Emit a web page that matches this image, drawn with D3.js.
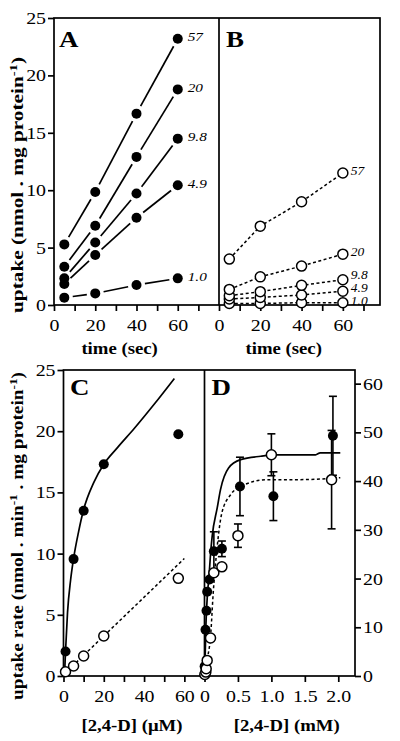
<!DOCTYPE html>
<html><head><meta charset="utf-8">
<script src="https://cdn.jsdelivr.net/npm/d3@7"></script>
<style>
html,body{margin:0;padding:0;background:#fff;}
svg{display:block;}
text{font-family:"Liberation Serif","Times New Roman",serif;fill:#000;}
</style></head>
<body>
<svg id="chart" width="400" height="741"></svg>
<script>
// ---------- DATA ----------
const timeSec = [5, 20, 40, 60];
const concLabels = ["57", "20", "9.8", "4.9", "1.0"];
// Panel A (filled)
const uptakeA57 = [5.28, 9.85, 16.67, 23.19];
const uptakeA20 = [3.33, 6.9, 12.9, 18.78];
const uptakeA98 = [2.32, 5.45, 9.71, 14.49];
const uptakeA49 = [1.83, 4.35, 7.6, 10.43];
const uptakeA10 = [0.64, 1.01, 1.74, 2.32];
// Panel B (open)
const uptakeB57 = [4.0, 6.87, 8.99, 11.5];
const uptakeB20 = [1.36, 2.45, 3.39, 4.43];
const uptakeB98 = [0.81, 1.16, 1.71, 2.2];
const uptakeB49 = [0.52, 0.66, 0.87, 1.2];
const uptakeB10 = [0.14, 0.14, 0.2, 0.2];
// Panel C (uM)
const concC = [1, 5, 10, 20, 57];
const rateCFilled = [2.0, 9.55, 13.5, 17.3, 19.75];
const rateCOpen = [0.35, 0.82, 1.63, 3.27, 7.98];
const fitCSolidX = [0.5, 1.0, 2.0, 3.5, 5, 7.5, 10, 15, 20, 27, 35, 45, 55];
const fitCSolidY = [0, 2.0, 5.2, 7.8, 9.6, 11.8, 13.6, 15.8, 17.3, 18.7, 20.2, 22.2, 24.3];
const fitCDotX = [0.3, 60];
const fitCDotY = [0.15, 9.6];
// Panel D (mM), right axis
const concDFilled = [0.002, 0.015, 0.03, 0.04, 0.075, 0.14, 0.26, 0.53, 1.03, 1.92];
const rateDFilled = [2.0, 9.5, 13.4, 17.3, 19.8, 25.6, 26.1, 38.9, 36.9, 49.3];
const errDFilled = [0, 0, 0, 0, 0, 4.0, 1.6, 6.0, 5.0, 8.1];
const concDOpen = [0.005, 0.02, 0.025, 0.04, 0.09, 0.14, 0.26, 0.5, 1.0, 1.9];
const rateDOpen = [0.3, 0.8, 1.5, 3.2, 7.8, 21.2, 22.4, 28.8, 45.4, 40.3];
const errDOpen = [0, 0, 0, 0, 0, 0, 0, 2.4, 4.3, 10.1];
const fitDSolidX = [0.003, 0.02, 0.045, 0.065, 0.09, 0.115, 0.19, 0.24, 0.36, 0.54, 0.84, 1.06, 1.66, 1.73, 2.03];
const fitDSolidY = [0, 10, 17, 20, 25, 28.7, 34.5, 38.3, 42.7, 44.4, 45.1, 45.4, 45.4, 45.8, 45.8];
const fitDDotX = [0.01, 0.05, 0.09, 0.13, 0.19, 0.26, 0.39, 0.54, 0.94, 1.43, 2.03];
const fitDDotY = [0, 4, 8, 17, 26.6, 33.5, 37.2, 38.9, 40.3, 40.3, 40.7];
// Ticks
const topYTicks = [0, 5, 10, 15, 20, 25];
const timeTicks = [0, 10, 20, 30, 40, 50, 60, 70];
const timeTickLabels = [0, 20, 40, 60];
const cXTicks = [0, 10, 20, 30, 40, 50, 60];
const cXTickLabels = [0, 20, 40, 60];
const dXTicks = [0, 0.5, 1.0, 1.5, 2.0];
const dYTicks = [0, 10, 20, 30, 40, 50, 60];

// ---------- LAYOUT ----------
const svg = d3.select("#chart");
const STRETCH = 1.17;
const xA = d3.scaleLinear().domain([0, 80]).range([54, 219]);
const xB = d3.scaleLinear().domain([0, 78]).range([219, 380]);
const yTop = d3.scaleLinear().domain([0, 25]).range([305, 18]);
const xC = d3.scaleLinear().domain([0, 70]).range([63.5, 204.5]);
const yC = d3.scaleLinear().domain([0, 25]).range([676, 370]);
const xD = d3.scaleLinear().domain([0, 2.25]).range([204.5, 355]);
const yD = d3.scaleLinear().domain([0, 62.8]).range([676, 370]);

const SW = 1.7;
function styleAxis(g) {
  g.attr("font-family", null).attr("font-size", null);
  g.select(".domain").remove();
  g.selectAll(".tick line").attr("stroke", "#000").attr("stroke-width", SW);
  g.selectAll(".tick text").attr("font-size", 17).attr("class", "sx");
}
function fmtOnly(list, f) { return d => list.includes(d) ? (f ? f(d) : String(d)) : ""; }

// Axes top
svg.append("g").attr("transform", "translate(54,0)")
  .call(d3.axisLeft(yTop).tickValues(topYTicks).tickSize(6).tickPadding(2)).call(styleAxis);
svg.append("g").attr("transform", "translate(0,305)")
  .call(d3.axisBottom(xA).tickValues(timeTicks).tickSize(6).tickPadding(8).tickFormat(fmtOnly(timeTickLabels))).call(styleAxis);
svg.append("g").attr("transform", "translate(0,305)")
  .call(d3.axisBottom(xB).tickValues(timeTicks).tickSize(6).tickPadding(8).tickFormat(fmtOnly(timeTickLabels))).call(styleAxis);
// Axes bottom
svg.append("g").attr("transform", "translate(63.5,0)")
  .call(d3.axisLeft(yC).tickValues(topYTicks).tickSize(6).tickPadding(2)).call(styleAxis);
svg.append("g").attr("transform", "translate(0,676)")
  .call(d3.axisBottom(xC).tickValues(cXTicks).tickSize(6).tickPadding(8).tickFormat(fmtOnly(cXTickLabels))).call(styleAxis);
svg.append("g").attr("transform", "translate(0,676)")
  .call(d3.axisBottom(xD).tickValues(dXTicks).tickSize(6).tickPadding(8).tickFormat(d => d === 0 ? "0" : d3.format(".1f")(d))).call(styleAxis);
svg.append("g").attr("transform", "translate(355,0)")
  .call(d3.axisRight(yD).tickValues(dYTicks).tickSize(6).tickPadding(2)).call(styleAxis);

// Frames
function frame(x0, x1, xm, y0, y1) {
  const g = svg.append("g").attr("stroke", "#000").attr("stroke-width", SW).attr("fill", "none");
  g.append("rect").attr("x", x0).attr("y", y0).attr("width", x1 - x0).attr("height", y1 - y0);
  g.append("line").attr("x1", xm).attr("x2", xm).attr("y1", y0).attr("y2", y1);
}
frame(xA(0), xB.range()[1], xB(0), yTop(25), yTop(0));
frame(xC(0), xD.range()[1], xD(0), yC(25), yC(0));

// ---------- Panel A ----------
const R = 5;
const seriesA = [uptakeA57, uptakeA20, uptakeA98, uptakeA49, uptakeA10];
const gA = svg.append("g");
seriesA.forEach(vals => {
  for (let i = 0; i < vals.length - 1; i++) {
    const x1 = xA(timeSec[i]), y1 = yTop(vals[i]), x2 = xA(timeSec[i + 1]), y2 = yTop(vals[i + 1]);
    const dx = x2 - x1, dy = y2 - y1, L = Math.hypot(dx, dy), gap = 8.5;
    if (L > 2 * gap) {
      gA.append("line").attr("x1", x1 + dx / L * gap).attr("y1", y1 + dy / L * gap)
        .attr("x2", x2 - dx / L * gap).attr("y2", y2 - dy / L * gap)
        .attr("stroke", "#000").attr("stroke-width", SW);
    }
  }
  gA.selectAll(null).data(vals).enter().append("circle")
    .attr("cx", (d, i) => xA(timeSec[i])).attr("cy", d => yTop(d)).attr("r", R).attr("fill", "#000");
});
function seriesLabels(series, xs, yScale, dx, fs) {
  let prev = Infinity;
  const out = [];
  for (let k = series.length - 1; k >= 0; k--) {
    const v = series[k][series[k].length - 1];
    let cy = Math.min(yScale(v) - 2, prev - 12.8);
    prev = cy;
    out.push({ k, cy });
  }
  out.forEach(o => {
    svg.append("text").attr("class", "sx").attr("x", xs(60) + dx).attr("y", o.cy + fs * 0.34)
      .attr("font-size", fs).attr("font-style", "italic").text(concLabels[o.k]);
  });
}
seriesLabels(seriesA, xA, yTop, 10, 13);

// ---------- Panel B ----------
const seriesB = [uptakeB57, uptakeB20, uptakeB98, uptakeB49, uptakeB10];
const gB = svg.append("g");
const lineB = d3.line().x((d, i) => xB(timeSec[i])).y(d => yTop(d));
seriesB.forEach(vals => {
  gB.append("path").attr("d", lineB(vals)).attr("fill", "none").attr("stroke", "#000")
    .attr("stroke-width", 1.5).attr("stroke-dasharray", "3,2.5");
});
seriesB.slice().reverse().forEach(vals => {
  gB.selectAll(null).data(vals).enter().append("circle")
    .attr("cx", (d, i) => xB(timeSec[i])).attr("cy", d => yTop(d)).attr("r", R)
    .attr("fill", "#fff").attr("stroke", "#000").attr("stroke-width", 1.5);
});
seriesLabels(seriesB, xB, yTop, 8, 11.5);

// ---------- Panel C ----------
const gC = svg.append("g");
gC.append("path").datum(fitCSolidX)
  .attr("d", d3.line().curve(d3.curveMonotoneX).x(d => xC(d)).y((d, i) => yC(fitCSolidY[i])))
  .attr("fill", "none").attr("stroke", "#000").attr("stroke-width", SW);
gC.append("path").datum(fitCDotX)
  .attr("d", d3.line().x(d => xC(d)).y((d, i) => yC(fitCDotY[i])))
  .attr("fill", "none").attr("stroke", "#000").attr("stroke-width", 1.5).attr("stroke-dasharray", "3,2.5");
gC.selectAll(null).data(rateCFilled).enter().append("circle")
  .attr("cx", (d, i) => xC(concC[i])).attr("cy", d => yC(d)).attr("r", R).attr("fill", "#000");
gC.selectAll(null).data(rateCOpen).enter().append("circle")
  .attr("cx", (d, i) => xC(concC[i])).attr("cy", d => yC(d)).attr("r", R)
  .attr("fill", "#fff").attr("stroke", "#000").attr("stroke-width", 1.5);

// ---------- Panel D ----------
const gD = svg.append("g");
gD.append("path").datum(fitDSolidX)
  .attr("d", d3.line().curve(d3.curveMonotoneX).x(d => xD(d)).y((d, i) => yD(fitDSolidY[i])))
  .attr("fill", "none").attr("stroke", "#000").attr("stroke-width", SW);
gD.append("path").datum(fitDDotX)
  .attr("d", d3.line().curve(d3.curveMonotoneX).x(d => xD(d)).y((d, i) => yD(fitDDotY[i])))
  .attr("fill", "none").attr("stroke", "#000").attr("stroke-width", 1.5).attr("stroke-dasharray", "3,2.5");
function errBars(xs, ys, es) {
  ys.forEach((v, i) => {
    if (!es[i]) return;
    const x = xD(xs[i]), yt = yD(v + es[i]), yb = yD(v - es[i]);
    gD.append("line").attr("x1", x).attr("x2", x).attr("y1", yt).attr("y2", yb).attr("stroke", "#000").attr("stroke-width", 1.6);
    [yt, yb].forEach(y => gD.append("line").attr("x1", x - 4).attr("x2", x + 4).attr("y1", y).attr("y2", y).attr("stroke", "#000").attr("stroke-width", 1.6));
  });
}
errBars(concDFilled, rateDFilled, errDFilled);
errBars(concDOpen, rateDOpen, errDOpen);
gD.selectAll(null).data(rateDFilled).enter().append("circle")
  .attr("cx", (d, i) => xD(concDFilled[i])).attr("cy", d => yD(d)).attr("r", R).attr("fill", "#000");
gD.selectAll(null).data(rateDOpen).enter().append("circle")
  .attr("cx", (d, i) => xD(concDOpen[i])).attr("cy", d => yD(d)).attr("r", R)
  .attr("fill", "#fff").attr("stroke", "#000").attr("stroke-width", 1.5);

// ---------- Letters and titles ----------
function letter(t, x, y) {
  svg.append("text").attr("class", "sx").attr("x", x).attr("y", y)
    .attr("font-size", 23).attr("font-weight", "bold").text(t);
}
letter("A", 59, 47); letter("B", 226, 47); letter("C", 70, 395); letter("D", 211.5, 395);

function title(t, x, y) {
  svg.append("text").attr("class", "sx").attr("x", x).attr("y", y).attr("text-anchor", "middle")
    .attr("font-size", 16).attr("font-weight", "bold").text(t);
}
title("time (sec)", 119.6, 354);
title("time (sec)", 283.7, 354);
title("[2,4-D] (\u03bcM)", 132, 731);
title("[2,4-D] (mM)", 286.7, 731);

function yTitle(parts, cx, cy, len) {
  const t = svg.append("text").attr("transform", `translate(${cx},${cy}) rotate(-90)`)
    .attr("text-anchor", "middle").attr("font-size", 16).attr("font-weight", "bold");
  parts.forEach(p => {
    const s = t.append("tspan").text(p[0]);
    if (p[1]) s.attr("font-size", 11).attr("baseline-shift", "super");
  });
  t.attr("textLength", len).attr("lengthAdjust", "spacingAndGlyphs");
}
yTitle([["uptake (nmol . mg protein"], ["-1", true], [")"]], 23, 185, 256);
yTitle([["uptake rate (nmol . min"], ["-1", true], [" . mg protein"], ["-1", true], [")"]], 23, 536, 328);

// horizontal stretch of text (reference is widened)
svg.selectAll("text.sx").each(function () {
  const w = this.getComputedTextLength();
  if (w > 0) {
    this.setAttribute("textLength", w * STRETCH);
    this.setAttribute("lengthAdjust", "spacingAndGlyphs");
  }
});
</script>
</body></html>
